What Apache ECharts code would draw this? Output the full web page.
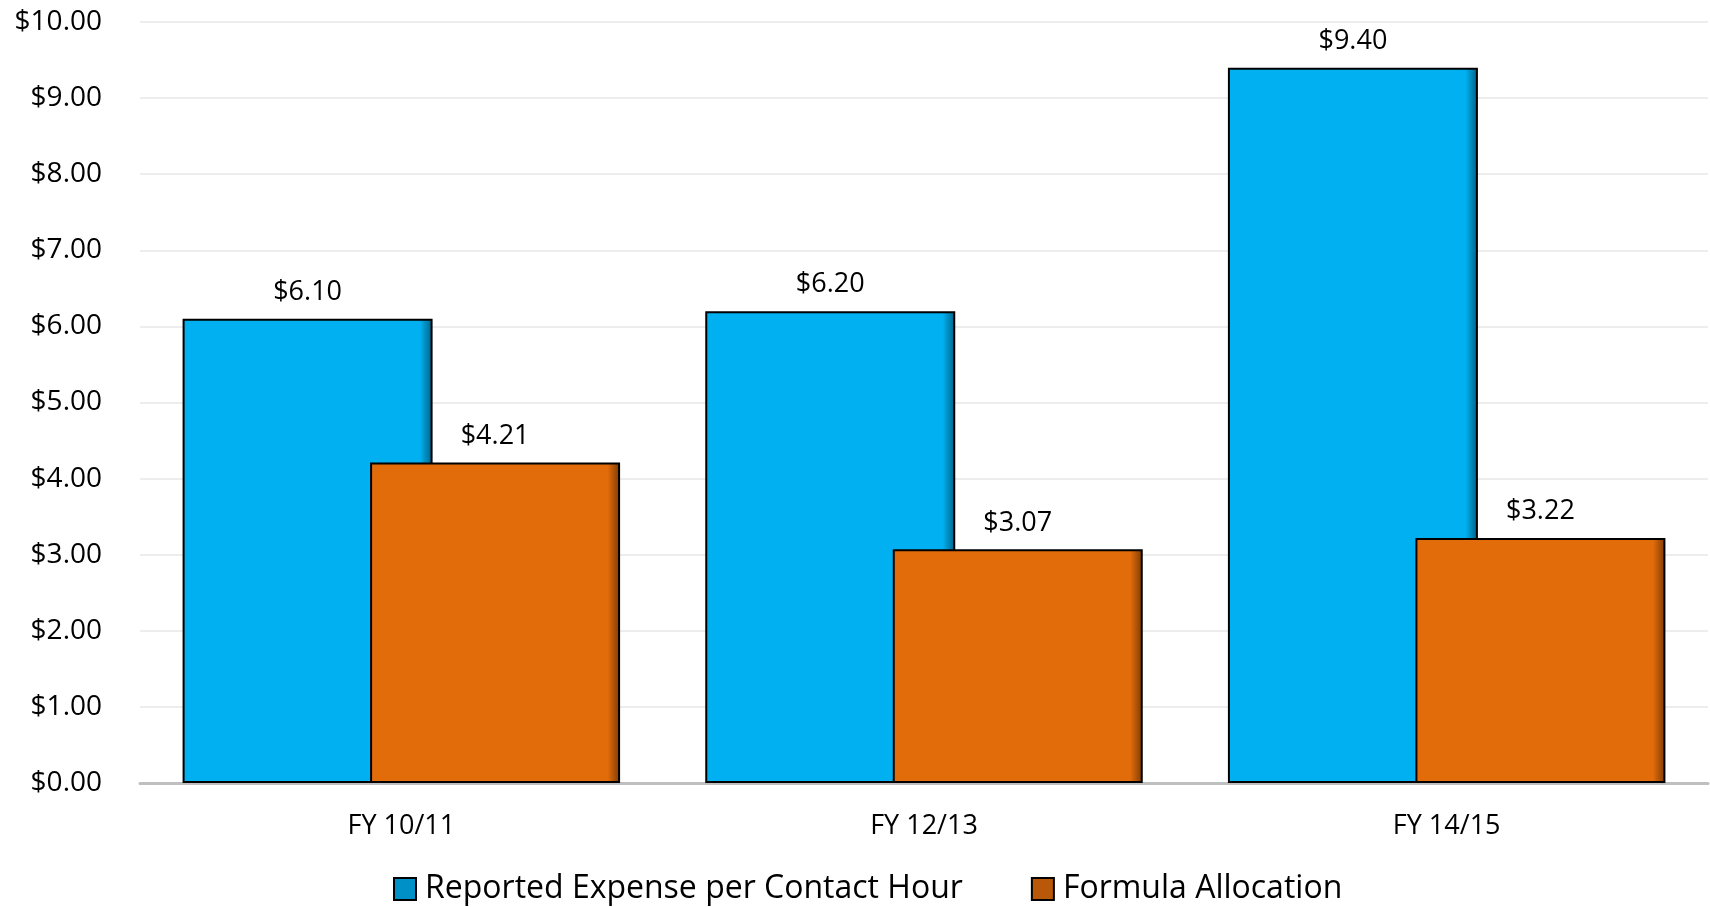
<!DOCTYPE html>
<html>
<head>
<meta charset="utf-8">
<script src="https://cdn.jsdelivr.net/npm/echarts@6/dist/echarts.min.js"></script>
<style>html,body{margin:0;padding:0;background:#fff;}#c{width:1710px;height:907px;}</style>
</head>
<body>
<div id="c"></div>
<script>
const categories = ['FY 10/11', 'FY 12/13', 'FY 14/15'];
const reportedExpense = [6.10, 6.20, 9.40];
const formulaAllocation = [4.21, 3.07, 3.22];
const seriesNames = ['Reported Expense per Contact Hour', 'Formula Allocation'];

const FONT = '"Open Sans", "Noto Sans", sans-serif';
function grad(base, dark) {
  return new echarts.graphic.LinearGradient(0, 0, 1, 0, [
    {offset: 0, color: base}, {offset: 0.95, color: base}, {offset: 1, color: dark}
  ]);
}
const chart = echarts.init(document.getElementById('c'));
const money = v => '$' + Number(v).toFixed(2);
const labelCfg = {show: true, position: 'top', distance: 13, color: '#000', fontFamily: FONT, fontSize: 27, formatter: p => money(p.value)};
chart.setOption({
  animation: false,
  grid: {left: 140, right: 2, top: 22, bottom: 124},
  legend: {
    top: 868, left: 388, itemWidth: 22, itemHeight: 22, itemGap: 68,
    textStyle: {fontFamily: FONT, fontSize: 32, color: '#000', padding: [0, 0, 0, 4]},
    data: [
      {name: seriesNames[0], icon: 'rect', itemStyle: {color: '#0090c8', borderColor: '#000', borderWidth: 2}},
      {name: seriesNames[1], icon: 'rect', itemStyle: {color: '#b85808', borderColor: '#000', borderWidth: 2}}
    ]
  },
  xAxis: {
    type: 'category', data: categories,
    axisLine: {lineStyle: {color: '#BFBFBF', width: 3}},
    axisTick: {show: false},
    axisLabel: {color: '#000', fontFamily: FONT, fontSize: 27, margin: 30}
  },
  yAxis: {
    type: 'value', min: 0, max: 10, interval: 1,
    axisLine: {show: false}, axisTick: {show: false},
    splitLine: {lineStyle: {color: '#EDEDED', width: 2}},
    axisLabel: {color: '#000', fontFamily: FONT, fontSize: 28, margin: 38, formatter: money}
  },
  series: [
    {name: seriesNames[0], type: 'bar', data: reportedExpense, barWidth: 250, barGap: '-25%',
     itemStyle: {color: grad('#00B0F0', '#005f82'), borderColor: '#000', borderWidth: 2}, label: labelCfg},
    {name: seriesNames[1], type: 'bar', data: formulaAllocation, barWidth: 250,
     itemStyle: {color: grad('#E36C0A', '#7a3a05'), borderColor: '#000', borderWidth: 2}, label: labelCfg}
  ]
});
</script>
</body>
</html>
